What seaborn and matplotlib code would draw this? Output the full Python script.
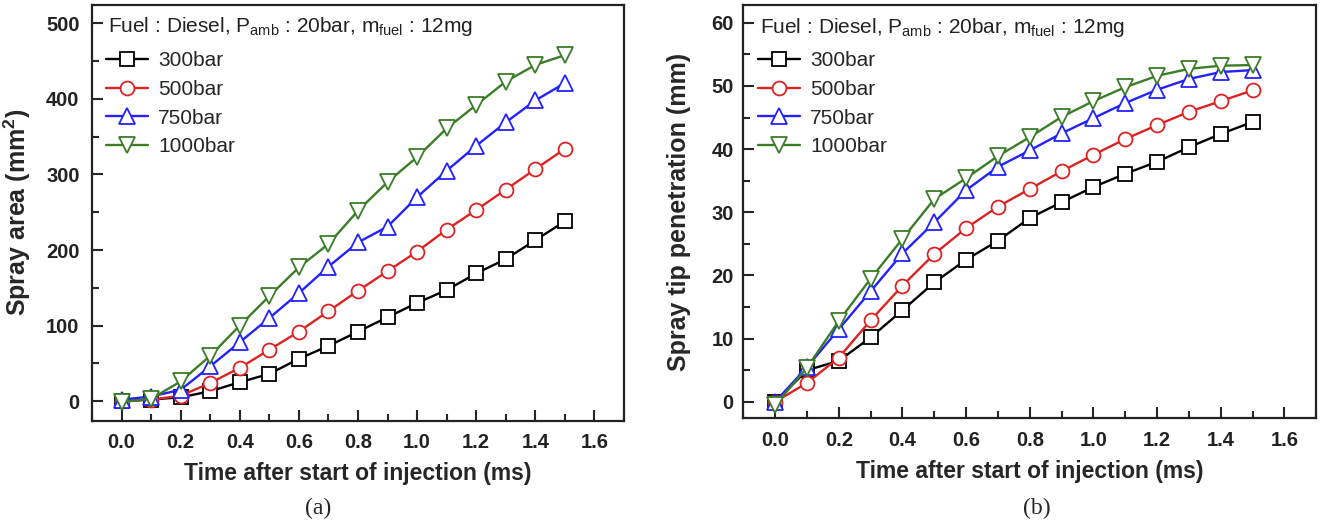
import matplotlib
matplotlib.use("Agg")
import matplotlib.pyplot as plt
import seaborn as sns
from matplotlib.ticker import MultipleLocator

sns.set_theme(style="white")
plt.rcParams['font.family'] = ['Liberation Sans', 'DejaVu Sans']
plt.rcParams['mathtext.fontset'] = 'custom'
plt.rcParams['mathtext.rm'] = 'Liberation Sans'
plt.rcParams['mathtext.it'] = 'Liberation Sans'
plt.rcParams['mathtext.bf'] = 'Liberation Sans:bold'

# ---------------- data ----------------
time_ms = [0.0, 0.1, 0.2, 0.3, 0.4, 0.5, 0.6, 0.7, 0.8, 0.9, 1.0, 1.1, 1.2, 1.3, 1.4, 1.5]
labels = ["300bar", "500bar", "750bar", "1000bar"]

area_300 = [0, 2, 5, 13, 25, 36, 56, 73, 92, 111, 130, 147, 169, 188, 213, 238]
area_500 = [0, 2, 7, 24, 44, 68, 92, 119, 146, 172, 198, 227, 253, 280, 307, 334]
area_750 = [2, 6, 15, 46, 78, 110, 143, 178, 210, 231, 270, 305, 338, 369, 398, 421]
area_1000 = [-1, 3, 26, 60, 100, 139, 177, 208, 252, 290, 323, 361, 392, 423, 445, 458]

pen_300 = [0, 5.0, 6.5, 10.2, 14.5, 18.9, 22.5, 25.5, 29.1, 31.6, 34.0, 36.1, 38.0, 40.3, 42.4, 44.3]
pen_500 = [0, 3.0, 7.0, 12.9, 18.4, 23.4, 27.5, 30.9, 33.7, 36.5, 39.1, 41.6, 43.8, 45.9, 47.6, 49.3]
pen_750 = [0, 5.5, 11.5, 17.5, 23.5, 28.4, 33.5, 37.2, 39.8, 42.5, 44.9, 47.3, 49.4, 51.1, 52.2, 52.5]
pen_1000 = [-0.5, 5.4, 12.8, 19.5, 25.8, 32.1, 35.4, 38.9, 41.9, 45.1, 47.6, 49.8, 51.6, 52.7, 53.2, 53.3]

colors = ["#000000", "#dd2222", "#2222ff", "#3a7d26"]
markers = ["s", "o", "^", "v"]
msizes = [9.5, 10, 11, 11]

title_txt = r"Fuel : Diesel, P$_{\rm amb}$ : 20bar, m$_{\rm fuel}$ : 12mg"

fig = plt.figure(figsize=(13.24, 5.24), dpi=100)
axA = fig.add_axes([0.0695, 0.1971, 0.4018, 0.7943])
axB = fig.add_axes([0.5614, 0.2017, 0.4328, 0.7893])


def draw(ax, series, ylab, ylim, ymaj, ymin, ytickpad):
    for vals, lab, c, m, s in zip(series, labels, colors, markers, msizes):
        sns.lineplot(x=time_ms, y=vals, ax=ax, color=c, marker=m, markersize=s,
                     markerfacecolor="white", markeredgecolor=c, markeredgewidth=1.3,
                     linewidth=1.7, label=lab, legend=False)
    ax.set_xlim(-0.1, 1.7)
    ax.set_ylim(*ylim)
    ax.xaxis.set_major_locator(MultipleLocator(0.2))
    ax.xaxis.set_minor_locator(MultipleLocator(0.1))
    ax.yaxis.set_major_locator(MultipleLocator(ymaj))
    ax.yaxis.set_minor_locator(MultipleLocator(ymin))
    ax.xaxis.set_major_formatter(matplotlib.ticker.FormatStrFormatter("%.1f"))
    ax.tick_params(which="major", direction="in", length=8, width=1.5,
                   labelsize=14.5, bottom=True, left=True, top=False, right=False)
    ax.tick_params(which="minor", direction="in", length=5, width=1.5,
                   bottom=True, left=True, top=False, right=False)
    ax.tick_params(axis="x", which="major", pad=9)
    ax.tick_params(axis="y", which="major", pad=ytickpad)
    for lab in ax.get_xticklabels() + ax.get_yticklabels():
        lab.set_fontweight("bold")
        lab.set_color("#222222")
    for sp in ax.spines.values():
        sp.set_linewidth(1.6)
        sp.set_color("#222222")
    ax.set_xlabel("Time after start of injection (ms)", fontsize=16.5,
                  fontweight="bold", labelpad=7)
    ax.set_ylabel(ylab, fontsize=18, fontweight="bold")
    ax.text(0.030, 0.946, title_txt, transform=ax.transAxes, fontsize=15,
            va="center", ha="left", color="#222222")
    ax.legend(loc="upper left", bbox_to_anchor=(0.026, 0.888), frameon=False,
              fontsize=15, handlelength=2.0, handletextpad=0.5,
              labelspacing=0.47, borderpad=0, borderaxespad=0)
    ax.grid(False)


draw(axA, [area_300, area_500, area_750, area_1000], "Spray area (mm$^\\mathbf{2}$)",
     (-26, 525), 100, 50, 9)
draw(axB, [pen_300, pen_500, pen_750, pen_1000], "Spray tip penetration (mm)",
     (-2.6, 62.85), 10, 5, 7)

axA.yaxis.set_label_coords(-0.110, 0.5)
axB.yaxis.set_label_coords(-0.092, 0.5)

fig.text(318 / 1324, 1 - 508 / 524, "(a)", ha="center", va="center",
         fontsize=17, family="Liberation Serif")
fig.text(1037 / 1324, 1 - 508 / 524, "(b)", ha="center", va="center",
         fontsize=17, family="Liberation Serif")

fig.savefig("out.png", dpi=100)
